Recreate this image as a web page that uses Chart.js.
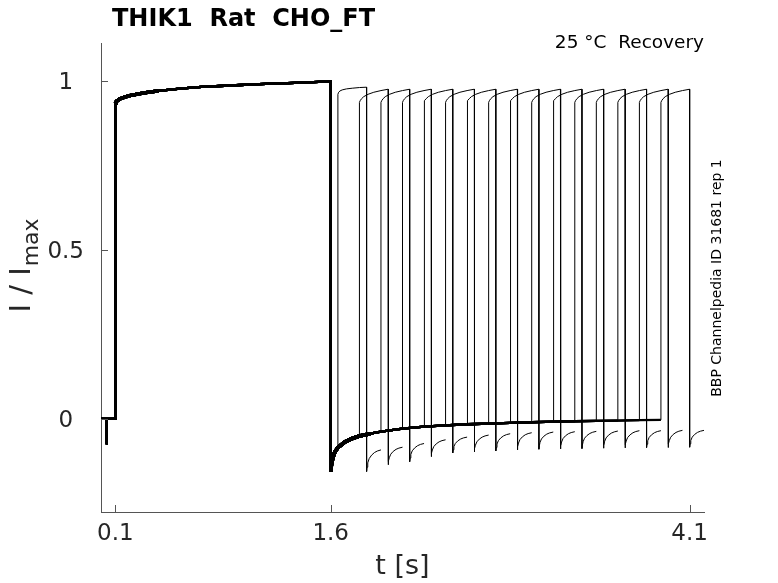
<!DOCTYPE html>
<html>
<head>
<meta charset="utf-8">
<title>THIK1 Rat CHO_FT - Recovery</title>
<script src="https://cdn.jsdelivr.net/npm/chart.js@4.4.0/dist/chart.umd.min.js"></script>
<style>
  html, body { margin: 0; padding: 0; background: #ffffff; }
  #wrap { width: 778px; height: 583px; }
</style>
</head>
<body>
<div id="wrap"><canvas id="recoveryChart" width="778" height="583"></canvas></div>
<script>
// ============================================
// DATA
// ============================================
const xTicks = [0.1, 1.6, 4.1];
const yTicks = [0, 0.5, 1];

// holding level with the short artefact before the conditioning step
const holdTimes = [0, 0.039, 0.04, 0.041, 0.1];
const holdValues = [0, 0, -0.075, 0, 0];

// conditioning pulse 0.1 s .. 1.6 s (same for every sweep)
const actTimes = [0.1, 0.102, 0.11, 0.13, 0.16, 0.2, 0.3, 0.4, 0.55, 0.7, 0.9, 1.1, 1.35, 1.6];
const actValues = [0.935, 0.938, 0.942, 0.948, 0.953, 0.958, 0.966, 0.972, 0.979, 0.984, 0.988, 0.992, 0.996, 1.0];

// tail current during the recovery interval
const recTimes = [1.6, 1.605, 1.615, 1.627, 1.65, 1.7, 1.75, 1.8, 1.875, 1.95, 2.1, 2.25,
  2.4, 2.55, 2.7, 2.85, 3.0, 3.15, 3.3, 3.45, 3.6, 3.75, 3.9];
const recValues = [-0.156, -0.135, -0.115, -0.1, -0.085, -0.068, -0.058, -0.051, -0.044, -0.038, -0.029, -0.023,
  -0.019, -0.016, -0.014, -0.012, -0.01, -0.008, -0.007, -0.006, -0.005, -0.004, -0.003];

// start of the test pulse in each sweep [s]
const testStarts = [1.65, 1.8, 1.95, 2.1, 2.25, 2.4, 2.55, 2.7, 2.85, 3.0, 3.15, 3.3, 3.45, 3.6, 3.75, 3.9];

// test pulse (0.2 s), offsets from its start
const testOffsets = [0, 0.005, 0.015, 0.03, 0.06, 0.1, 0.15, 0.2];
const testFirst = [0.962, 0.968, 0.972, 0.975, 0.978, 0.98, 0.982, 0.983];
const testLater = [0.938, 0.943, 0.949, 0.955, 0.962, 0.968, 0.973, 0.977];

// tail after the test pulse (0.1 s)
const tailOffsets = [0, 0.003, 0.008, 0.018, 0.035, 0.055, 0.075, 0.1];
const tailShape = [0, 0.2, 0.4, 0.6, 0.76, 0.88, 0.95, 1];
const tailLow = [-0.156, -0.136, -0.127, -0.112, -0.101, -0.098, -0.095, -0.092,
  -0.09, -0.089, -0.088, -0.087, -0.086, -0.085, -0.085, -0.084];
const tailHigh = [-0.092, -0.084, -0.073, -0.062, -0.054, -0.048, -0.044, -0.041,
  -0.039, -0.038, -0.037, -0.036, -0.035, -0.035, -0.034, -0.034];

// ============================================
// BUILD SWEEPS
// ============================================
function buildSweep(k) {
  const pts = [];
  holdTimes.forEach((t, i) => pts.push({ x: t, y: holdValues[i] }));
  actTimes.forEach((t, i) => pts.push({ x: t, y: actValues[i] }));

  const t0 = testStarts[k];
  recTimes.forEach((t, i) => {
    if (t <= t0 + 1e-9) pts.push({ x: t, y: recValues[i] });
  });
  const commonEnd = pts.length - 1;

  const pulse = k === 0 ? testFirst : testLater;
  testOffsets.forEach((dt, i) => pts.push({ x: t0 + dt, y: pulse[i] }));

  const tEnd = t0 + testOffsets[testOffsets.length - 1];
  tailOffsets.forEach((dt, i) => {
    pts.push({ x: tEnd + dt, y: tailLow[k] + (tailHigh[k] - tailLow[k]) * tailShape[i] });
  });

  return { pts, commonEnd };
}

// heavier stroke where many sweeps lie on top of each other
function commonWidth(ctx) {
  const x0 = ctx.p0.parsed.x;
  const x1 = ctx.p1.parsed.x;
  if (x0 >= 0.1 && x1 <= 0.45 && x0 !== x1) return 3.4;
  if (x0 >= 1.6 && x1 <= 1.9 && x0 !== x1) return 3.6;
  return 2.3;
}

const datasets = testStarts.map((t0, k) => {
  const sweep = buildSweep(k);
  return {
    label: 'sweep ' + (k + 1),
    data: sweep.pts,
    borderColor: '#000000',
    borderWidth: 1,
    pointRadius: 0,
    tension: 0,
    segment: {
      borderWidth: ctx => (ctx.p1DataIndex <= sweep.commonEnd ? commonWidth(ctx) : 1)
    }
  };
});

// ============================================
// DECORATION: inward ticks, titles, notes
// ============================================
const FONT = '"DejaVu Sans", "Liberation Sans", sans-serif';

const decorPlugin = {
  id: 'decor',
  afterDraw(chart) {
    const { ctx, chartArea, scales } = chart;
    ctx.save();

    // inward tick marks
    ctx.strokeStyle = '#555555';
    ctx.lineWidth = 1;
    yTicks.forEach(v => {
      const y = Math.round(scales.y.getPixelForValue(v)) + 0.5;
      ctx.beginPath();
      ctx.moveTo(chartArea.left, y);
      ctx.lineTo(chartArea.left + 7, y);
      ctx.stroke();
    });
    xTicks.forEach(v => {
      const x = Math.round(scales.x.getPixelForValue(v)) + 0.5;
      ctx.beginPath();
      ctx.moveTo(x, chartArea.bottom);
      ctx.lineTo(x, chartArea.bottom - 7);
      ctx.stroke();
    });

    // title
    ctx.fillStyle = '#000000';
    ctx.textAlign = 'left';
    ctx.textBaseline = 'alphabetic';
    ctx.font = 'bold 24px ' + FONT;
    ctx.fillText('THIK1  Rat  CHO_FT', 112, 26);

    // condition note
    ctx.textAlign = 'right';
    ctx.font = '18.5px ' + FONT;
    ctx.fillText('25 °C  Recovery', 704, 48);

    // x axis title
    ctx.fillStyle = '#262626';
    ctx.textAlign = 'center';
    ctx.textBaseline = 'middle';
    ctx.font = '27px ' + FONT;
    ctx.fillText('t [s]', (chartArea.left + chartArea.right) / 2, 567);

    // y axis title "I / I_max" (rotated, subscript drawn smaller and lower)
    ctx.save();
    ctx.translate(30, 266);
    ctx.rotate(-Math.PI / 2);
    ctx.textBaseline = 'alphabetic';
    ctx.textAlign = 'left';
    ctx.font = '29px ' + FONT;
    const mainText = 'I / I';
    const w1 = ctx.measureText(mainText).width;
    ctx.font = '22px ' + FONT;
    const w2 = ctx.measureText('max').width;
    const start = -(w1 + w2) / 2;
    ctx.font = '29px ' + FONT;
    ctx.fillText(mainText, start, 0);
    ctx.font = '22px ' + FONT;
    ctx.fillText('max', start + w1 + 1, 8);
    ctx.restore();

    // source note on the right
    ctx.save();
    ctx.translate(721, 278);
    ctx.rotate(-Math.PI / 2);
    ctx.fillStyle = '#000000';
    ctx.textAlign = 'center';
    ctx.textBaseline = 'alphabetic';
    ctx.font = '14px ' + FONT;
    ctx.fillText('BBP Channelpedia ID 31681 rep 1', 0, 0);
    ctx.restore();

    ctx.restore();
  }
};

// ============================================
// CHART
// ============================================
const canvas = document.getElementById('recoveryChart');

new Chart(canvas.getContext('2d'), {
  type: 'line',
  data: { datasets: datasets },
  plugins: [decorPlugin],
  options: {
    responsive: false,
    animation: false,
    events: [],
    layout: { padding: { left: 0, right: 74, top: 43, bottom: 0 } },
    plugins: {
      legend: { display: false },
      tooltip: { enabled: false },
      title: { display: false }
    },
    scales: {
      x: {
        type: 'linear',
        min: 0,
        max: 4.2,
        afterFit: scale => { scale.height = 71; },
        afterBuildTicks: scale => { scale.ticks = xTicks.map(v => ({ value: v })); },
        grid: { display: false, drawTicks: false },
        border: { display: true, color: '#555555', width: 1 },
        ticks: {
          padding: 8,
          color: '#262626',
          font: { family: FONT, size: 23 },
          callback: v => String(v),
          maxRotation: 0,
          autoSkip: false
        }
      },
      y: {
        type: 'linear',
        min: -0.276,
        max: 1.114,
        afterFit: scale => { scale.width = 101; },
        afterBuildTicks: scale => { scale.ticks = yTicks.map(v => ({ value: v })); },
        grid: { display: false, drawTicks: false },
        border: { display: true, color: '#555555', width: 1 },
        ticks: {
          padding: 17,
          labelOffset: 2,
          crossAlign: 'center',
          color: '#262626',
          font: { family: FONT, size: 23 },
          callback: v => String(v)
        }
      }
    }
  }
});
</script>
</body>
</html>
